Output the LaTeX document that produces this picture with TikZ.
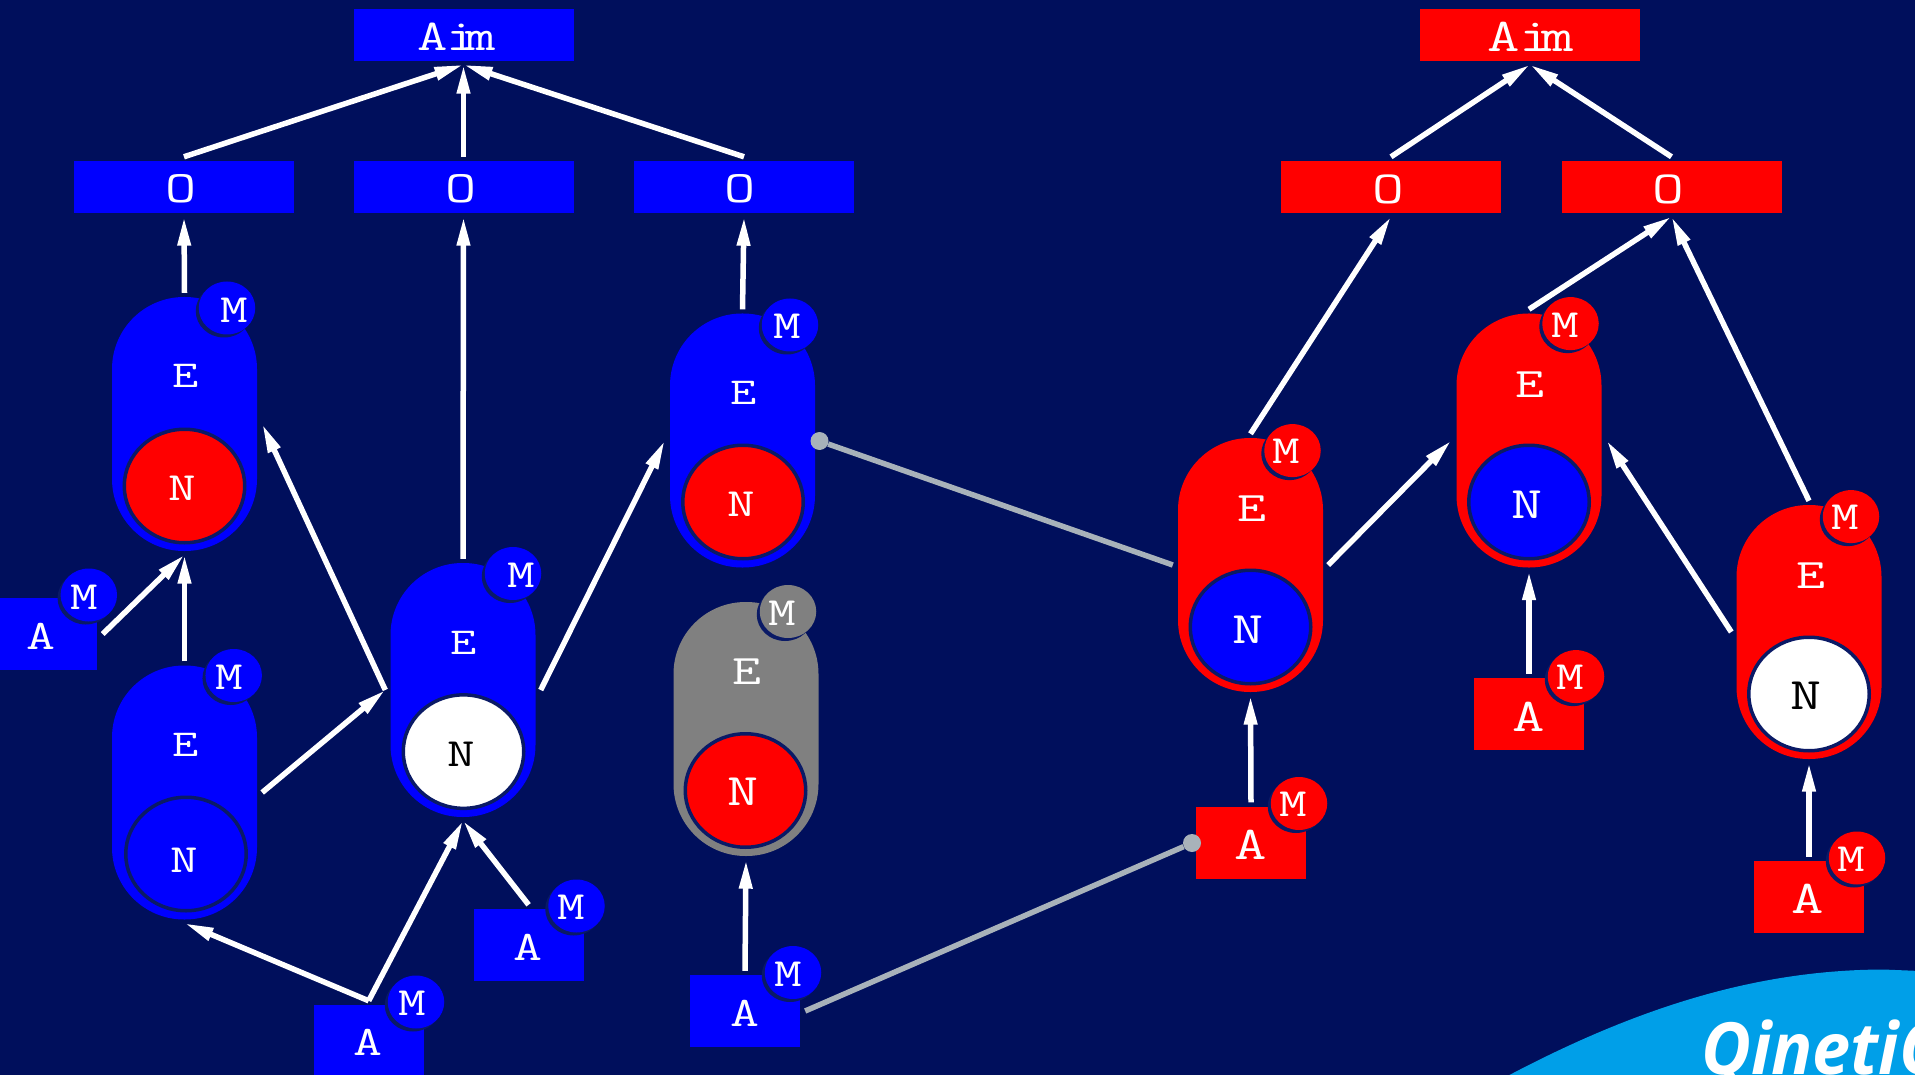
\documentclass[tikz,border=0pt]{standalone}
\usepackage{fontspec}
\usepackage{graphicx}
\usetikzlibrary{arrows.meta,shapes.geometric}
\newfontfamily\logofont{Open Sans}
\definecolor{bgnavy}{HTML}{000F5C}
\definecolor{ringnavy}{HTML}{0A1A66}
\definecolor{linkgrey}{HTML}{A8B2BA}
\definecolor{logoblue}{HTML}{009FE8}
\newcommand\lab[2]{\scalebox{1.34}[1]{\fontsize{#1}{#1}\selectfont\ttfamily #2}}
\tikzset{
  capsule/.style={rectangle,rounded corners=72pt,minimum width=145pt,minimum height=254pt,inner sep=0pt,fill=#1},
  nuc/.style={ellipse,draw=ringnavy,line width=3.5pt,minimum width=120.5pt,minimum height=113.5pt,inner sep=0pt,fill=#1},
  wide box/.style={rectangle,minimum width=220pt,minimum height=52pt,inner sep=0pt,fill=#1},
  a box/.style={rectangle,minimum width=110pt,minimum height=72pt,inner sep=0pt,fill=#1},
  disc/.style={ellipse,minimum width=56.5pt,minimum height=53pt,inner sep=0pt,fill=#1},
  glyph/.style={text=white,inner sep=0pt},
  conn/.style={draw=white,line width=5.5pt,-{Triangle[length=29pt,width=12.5pt]}},
  link/.style={draw=linkgrey,line width=5.5pt},
  bullet/.style={ellipse,minimum width=18pt,minimum height=18pt,inner sep=0pt,fill=linkgrey},
  up/.style={yshift=4pt}, down/.style={yshift=-3.5pt}, lft/.style={xshift=-5pt}, rgt/.style={xshift=5pt}
}
% name, x, y, colour, text x, text y
\newcommand\badge[6]{%
  \node[disc=ringnavy] at (#2-3,#3+3) {};
  \node[disc=#4] (#1) at (#2,#3) {};
  \node[glyph] (#1t) at (#5,#6) {\lab{40}{M}};
}
\begin{document}
\begin{tikzpicture}[x=1pt,y=-1pt]
\useasboundingbox (0,0) rectangle (1915,1075);
\fill[bgnavy] (0,0) rectangle (1915,1075);
% logo
\begin{scope}
\clip (0,0) rectangle (1915,1075);
\fill[logoblue] (1500,1080) .. controls (1640,1005) and (1760,970) .. (1883,969.5) -- (1920,971) -- (1920,1080) -- cycle;
\node[text=white,anchor=base west,inner sep=0pt] (logo) at (1701,1074) {\scalebox{0.95}[1]{\fontsize{72}{72}\selectfont\logofont\bfseries\itshape QinetiQ}};
\end{scope}
% top boxes
\node[wide box=blue] (aimB) at (463.5,35) {};
\node[glyph] (aimBt) at (456.5,36.5) {\lab{44}{A\kern-1pt i\kern-9pt m}};
\node[wide box=blue] (o1) at (184,187) {};
\node[glyph] at (181,188.7) {\lab{45}{O}};
\node[wide box=blue] (o2) at (463.5,187) {};
\node[glyph] at (460.6,188.7) {\lab{45}{O}};
\node[wide box=blue] (o3) at (744,187) {};
\node[glyph] at (740.5,188.7) {\lab{45}{O}};
\node[wide box=red] (aimR) at (1530,35) {};
\node[glyph] (aimRt) at (1530.5,36.5) {\lab{47}{A\kern-0.5pt i\kern-8pt m}};
\node[wide box=red] (o4) at (1391,187) {};
\node[glyph] at (1388.6,189) {\lab{46}{O}};
\node[wide box=red] (o5) at (1671.5,187) {};
\node[glyph] at (1668.4,189) {\lab{46}{O}};
% capsules
\node[capsule=blue] (c1) at (184.5,424) {};
\node[glyph] at (185.5,376) {\lab{38}{E}};
\node[nuc=red] (n1) at (184.5,486) {};
\node[glyph] at (182,488.5) {\lab{40}{N}};
\node[capsule=blue] (c2) at (184.5,792.5) {};
\node[glyph] at (186,745) {\lab{38}{E}};
\node[nuc=blue] (n2) at (186,854) {};
\node[glyph] at (184,860) {\lab{40}{N}};
\node[capsule=blue] (c3) at (463,690) {};
\node[glyph] at (464,642.4) {\lab{38}{E}};
\node[nuc=white] (n3) at (463.5,751.6) {};
\node[inner sep=0pt,text=black] at (461.5,754) {\lab{40}{N}};
\node[capsule=blue] (c4) at (742.5,440.5) {};
\node[glyph] at (744,393) {\lab{38}{E}};
\node[nuc=red] (n4) at (743,502) {};
\node[glyph] at (741,504.4) {\lab{40}{N}};
\node[capsule=gray] (c5) at (746,729) {};
\node[glyph] at (747,671.4) {\lab{42}{E}};
\node[nuc=red] (n5) at (745.5,790.5) {};
\node[glyph] at (742.7,792) {\lab{45}{N}};
\node[capsule=red] (c6) at (1250.5,565) {};
\node[glyph] at (1252,509) {\lab{42}{E}};
\node[nuc=blue] (n6) at (1250.5,627) {};
\node[glyph] at (1248,629.4) {\lab{45}{N}};
\node[capsule=red] (c7) at (1529,440.5) {};
\node[glyph] at (1530,384.7) {\lab{42}{E}};
\node[nuc=blue] (n7) at (1529,502) {};
\node[glyph] at (1527,504.4) {\lab{45}{N}};
\node[capsule=red] (c8) at (1809,632) {};
\node[glyph] at (1811,576) {\lab{42}{E}};
\node[nuc=white] (n8) at (1809,694) {};
\node[inner sep=0pt,text=black] at (1806.5,696) {\lab{45}{N}};
% A boxes
\node[a box=blue] (a1) at (41.5,634) {};
\node[glyph] at (41,636.6) {\lab{42}{A}};
\node[a box=blue] (a2) at (368.7,1041) {};
\node[glyph] at (367.7,1042.7) {\lab{42}{A}};
\node[a box=blue] (a3) at (528.6,945) {};
\node[glyph] at (528,947) {\lab{42}{A}};
\node[a box=blue] (a4) at (745,1011) {};
\node[glyph] at (745,1013.7) {\lab{42}{A}};
\node[a box=red] (a5) at (1251,842.5) {};
\node[glyph] at (1250.7,844.8) {\lab{47}{A}};
\node[a box=red] (a6) at (1529,714) {};
\node[glyph] at (1529,717) {\lab{47}{A}};
\node[a box=red] (a7) at (1809,897) {};
\node[glyph] at (1807.7,899) {\lab{47}{A}};
% badges
\badge{m1}{227}{308}{blue}{234}{310}
\badge{m2}{233.7}{675.5}{blue}{229}{677}
\badge{m3}{513}{573.5}{blue}{521}{575}
\badge{m4}{790}{325}{blue}{787}{326}
\badge{m5}{88.8}{595}{blue}{84}{597}
\badge{m6}{416}{1002}{blue}{412}{1003}
\badge{m7}{576.5}{906}{blue}{571}{907}
\badge{m8}{793}{972.5}{blue}{788}{974}
\badge{m9}{788}{611.5}{gray}{782}{613}
\badge{m10}{1292.5}{450.6}{red}{1286}{451}
\badge{m11}{1570.5}{323.6}{red}{1565}{325}
\badge{m12}{1851}{516.6}{red}{1845}{517}
\badge{m13}{1299}{803.5}{red}{1293}{804}
\badge{m14}{1576}{676.6}{red}{1570}{677}
\badge{m15}{1857}{858}{red}{1851}{859}
% bullets
\node[bullet] (b1) at (819.5,441) {};
\node[bullet] (b2) at (1192,843) {};
% connectors
\draw[conn] ([up]o1.north) -- ([down]aimB.south);
\draw[conn] ([up]o2.north) -- ([down]aimB.south);
\draw[conn] ([up]o3.north) -- ([down]aimB.south);
\draw[conn] ([up]o4.north) -- ([down]aimR.south);
\draw[conn] ([up]o5.north) -- ([down]aimR.south);
\draw[conn] ([up]c1.north) -- ([down]o1.south);
\draw[conn] ([up]c3.north) -- ([down]o2.south);
\draw[conn] ([up]c4.north) -- ([down]o3.south);
\draw[conn] ([up]c2.north) -- ([down]c1.south);
\draw[conn] ([xshift=6pt]a1.east) -- ([down]c1.south);
\draw[conn] ([rgt]c2.east) -- ([lft]c3.west);
\draw[conn] ([lft]c3.west) -- ([rgt]c1.east);
\draw[conn] ([rgt]c3.east) -- ([lft]c4.west);
\draw[conn] ([up]a2.north) -- ([down]c3.south);
\draw[conn] ([up]a2.north) -- ([down]c2.south);
\draw[conn] ([up]a3.north) -- ([down]c3.south);
\draw[conn] ([up]a4.north) -- ([down]c5.south);
\draw[link] ([lft]c6.west) -- (b1);
\draw[link] ([rgt]a4.east) -- (b2);
\draw[conn] ([up]c6.north) -- ([down]o4.south);
\draw[conn] ([up]c7.north) -- ([down]o5.south);
\draw[conn] ([up]c8.north) -- ([down]o5.south);
\draw[conn] ([rgt]c6.east) -- ([lft]c7.west);
\draw[conn] ([lft]c8.west) -- ([rgt]c7.east);
\draw[conn] ([up]a5.north) -- ([down]c6.south);
\draw[conn] ([up]a6.north) -- ([down]c7.south);
\draw[conn] ([up]a7.north) -- ([down]c8.south);
\end{tikzpicture}
\end{document}
